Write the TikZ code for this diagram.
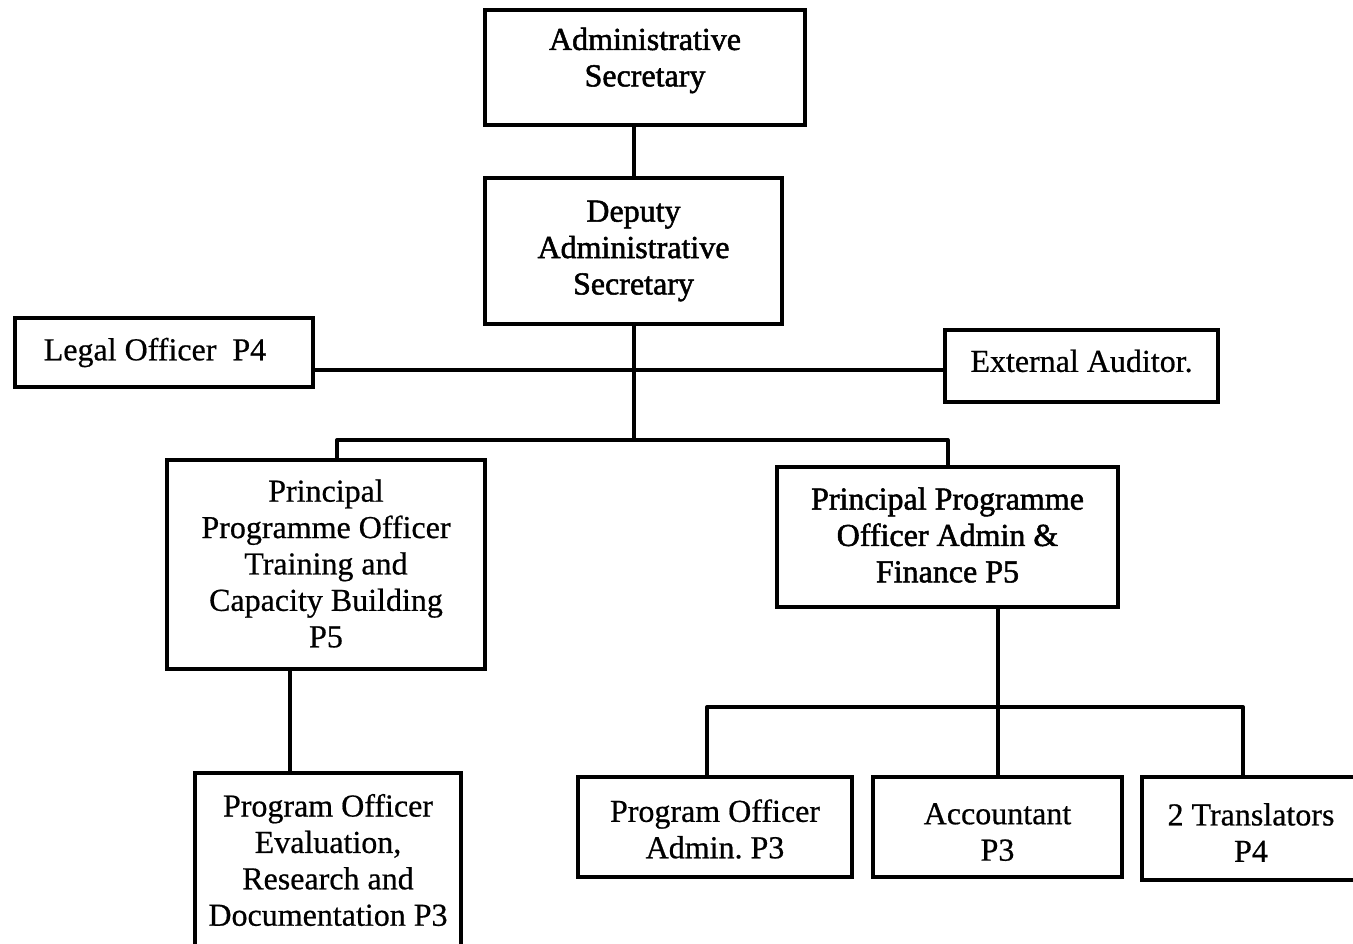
\documentclass[tikz,border=0pt]{standalone}
\usepackage{fontspec}
\setmainfont[FakeBold=0.6]{Liberation Serif}
\newfontfamily\reg[FakeBold=0.6]{Liberation Serif}
\newfontfamily\heavy[FakeBold=1.6]{Liberation Serif}
\begin{document}
\begin{tikzpicture}[x=0.5pt,y=-0.5pt,
  box/.style={draw, line width=2pt, rectangle, inner sep=0pt},
  txt/.style={inner sep=0pt, align=center, font=\fontsize{16}{18.2}\selectfont\reg},
  htxt/.style={txt, font=\fontsize{16}{18.2}\selectfont\heavy},
  ln/.style={line width=2pt, line join=round}]
\useasboundingbox (0,0) rectangle (1353,943);
\fill[white] (0,0) rectangle (1353,943);

\node[box, minimum width=160pt, minimum height=57.5pt] (adm) at (645,67.5) {};
\node[htxt] (adm-t) at ([yshift=3.5pt]adm.center) {Administrative\\Secretary};

\node[box, minimum width=148.5pt, minimum height=73pt] (dep) at (633.5,251) {};
\node[htxt] (dep-t) at (dep.center) {Deputy\\Administrative\\Secretary};

\node[box, minimum width=149pt, minimum height=34.5pt] (legal) at (164,352.5) {};
\node[txt] (legal-t) at ([xshift=-4.5pt]legal.center) {Legal Officer~ P4};

\node[box, minimum width=136.5pt, minimum height=36pt] (aud) at (1081.5,366) {};
\node[txt] (aud-t) at ([yshift=2.5pt]aud.center) {External Auditor.};

\node[box, minimum width=159pt, minimum height=104.5pt] (ppo1) at (326,564.5) {};
\node[txt] (ppo1-t) at ([yshift=0.5pt]ppo1.center) {Principal\\Programme Officer\\Training and\\Capacity Building\\P5};

\node[box, minimum width=170.5pt, minimum height=70pt] (ppo2) at (947.5,537) {};
\node[htxt] (ppo2-t) at ([yshift=1pt]ppo2.center) {Principal Programme\\Officer Admin \&\\Finance P5};

\node[box, minimum width=133pt, minimum height=87pt] (eval) at (328,860) {};
\node[txt] (eval-t) at (eval.center) {Program Officer\\Evaluation,\\Research and\\Documentation P3};

\node[box, minimum width=137pt, minimum height=50pt] (poa) at (715,827) {};
\node[txt] (poa-t) at ([yshift=-1pt]poa.center) {Program Officer\\Admin.\ P3};

\node[box, minimum width=124.5pt, minimum height=50pt] (acc) at (997.5,827) {};
\node[txt] (acc-t) at ([yshift=-2.5pt]acc.center) {Accountant\\P3};

\node[box, minimum width=109pt, minimum height=51.5pt] (tr) at (1251,828.5) {};
\node[txt] (tr-t) at ([yshift=-2pt]tr.center) {2 Translators\\P4};

\coordinate (ly) at (0,370);
\coordinate (hy) at (0,440);
\coordinate (bl) at (337,440);
\coordinate (ex) at (290,0);
\coordinate (by) at (0,707);
\coordinate (px) at (707,0);
\coordinate (tx) at (1243,0);

\draw[ln] (dep.north) -- (dep.north |- adm.south);
\draw[ln] (dep.south) -- (dep.south |- hy);
\draw[ln] (legal.east |- ly) -- (aud.west |- ly);
\draw[ln] (ppo1.north -| bl) -- (bl) -- (ppo2.north |- hy) -- (ppo2.north);
\draw[ln] (ppo1.south -| ex) -- (eval.north -| ex);
\draw[ln] (acc.north) -- (acc.north |- ppo2.south);
\draw[ln] (poa.north -| px) -- (px |- by) -- (tx |- by) -- (tr.north -| tx);
\end{tikzpicture}
\end{document}
